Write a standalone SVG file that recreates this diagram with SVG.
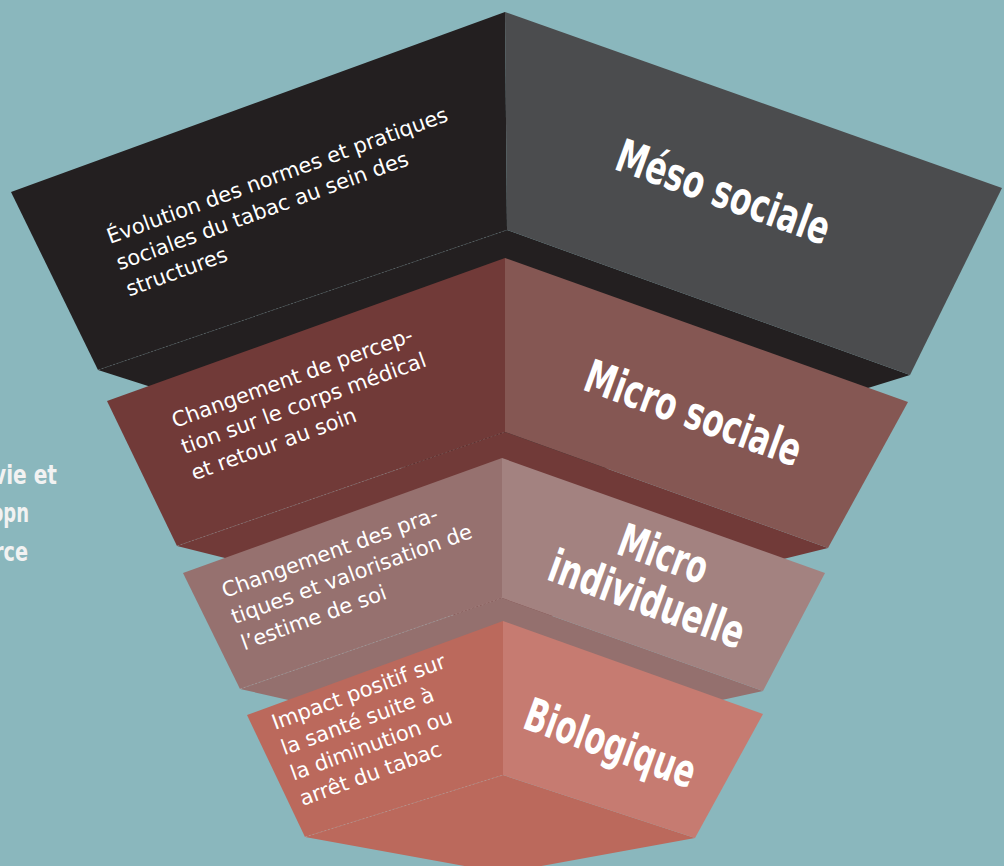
<svg xmlns="http://www.w3.org/2000/svg" width="1004" height="866" viewBox="0 0 1004 866">
<style>
.desc{font-family:"DejaVu Sans","Noto Sans",sans-serif;font-size:21px;fill:#ffffff;}
.lab{font-family:"DejaVu Sans","Liberation Sans",sans-serif;font-weight:bold;font-size:46px;fill:#ffffff;text-anchor:middle;}
.side{font-family:"DejaVu Sans","Liberation Sans",sans-serif;font-weight:bold;font-size:26px;fill:#f2f2f2;text-anchor:end;}
.fold{fill:none;stroke:#ffffff;stroke-opacity:0.18;stroke-width:0.8;stroke-dasharray:2 2;}
</style>
<rect x="0" y="0" width="1004" height="866" fill="#8ab7bd"/>
<g id="side-text">
<text class="side" x="57" y="484" textLength="64" lengthAdjust="spacingAndGlyphs">vie et</text>
<text class="side" x="29" y="522" textLength="38" lengthAdjust="spacingAndGlyphs">opn</text>
<text class="side" x="28" y="561" textLength="34" lengthAdjust="spacingAndGlyphs">rce</text>
</g>
<g id="connectors"></g>
<g id="meso">
<polygon points="98,370 507,230 910,375 505,500" fill="#231f20"/>
<polygon points="505,12 11,192 98,370 507,230" fill="#231f20"/>
<polygon points="505,12 1002,188 910,375 507,230" fill="#4b4c4e"/>
<line class="fold" x1="98" y1="370" x2="507" y2="230"/>
<text class="desc" transform="rotate(-20 110 244)"><tspan x="110" y="244">Évolution des normes et pratiques</tspan><tspan x="110" y="272">sociales du tabac au sein des</tspan><tspan x="110" y="300">structures</tspan></text>
<text class="lab" transform="rotate(20 718 207)" x="718" y="207" textLength="224" lengthAdjust="spacingAndGlyphs">Méso sociale</text>
</g>
<g id="micro-sociale">
<polygon points="177,546 505,432 828,548 505,628" fill="#713a38"/>
<polygon points="505,258 107,401 177,546 505,432" fill="#713a38"/>
<polygon points="505,258 908,402 828,548 505,432" fill="#855753"/>
<line class="fold" x1="177" y1="546" x2="505" y2="432"/>
<text class="desc" transform="rotate(-20 175 428)"><tspan x="175" y="428">Changement de percep-</tspan><tspan x="175" y="456">tion sur le corps médical</tspan><tspan x="175" y="484">et retour au soin</tspan></text>
<text class="lab" transform="rotate(20 688 428)" x="688" y="428" textLength="227" lengthAdjust="spacingAndGlyphs">Micro sociale</text>
</g>
<g id="micro-individuelle">
<polygon points="240,689 502,598 763,691 502,748" fill="#94706e"/>
<polygon points="502,458 183,573 240,689 502,598" fill="#96716f"/>
<polygon points="502,458 825,573 763,691 502,598" fill="#a38280"/>
<line class="fold" x1="240" y1="689" x2="502" y2="598"/>
<text class="desc" transform="rotate(-20 225 598)"><tspan x="225" y="598">Changement des pra-</tspan><tspan x="225" y="626">tiques et valorisation de</tspan><tspan x="225" y="654">l’estime de soi</tspan></text>
<text class="lab" transform="rotate(20 658 569)"><tspan x="658" y="569" textLength="92" lengthAdjust="spacingAndGlyphs">Micro</tspan><tspan x="658" y="617" textLength="205" lengthAdjust="spacingAndGlyphs">individuelle</tspan></text>
</g>
<g id="biologique">
<polygon points="305,837 503,775 695,838 503,873" fill="#bb695c"/>
<polygon points="503,621 247,715 305,837 503,775" fill="#bb695c"/>
<polygon points="503,621 763,714 695,838 503,775" fill="#c67b71"/>
<line class="fold" x1="305" y1="837" x2="503" y2="775"/>
<text class="desc" transform="rotate(-20 275 730)"><tspan x="275" y="730">Impact positif sur</tspan><tspan x="275" y="757">la santé suite à</tspan><tspan x="275" y="784">la diminution ou</tspan><tspan x="275" y="811">arrêt du tabac</tspan></text>
<text class="lab" transform="rotate(20 605 758)" x="605" y="758" textLength="179" lengthAdjust="spacingAndGlyphs">Biologique</text>
</g>
</svg>
